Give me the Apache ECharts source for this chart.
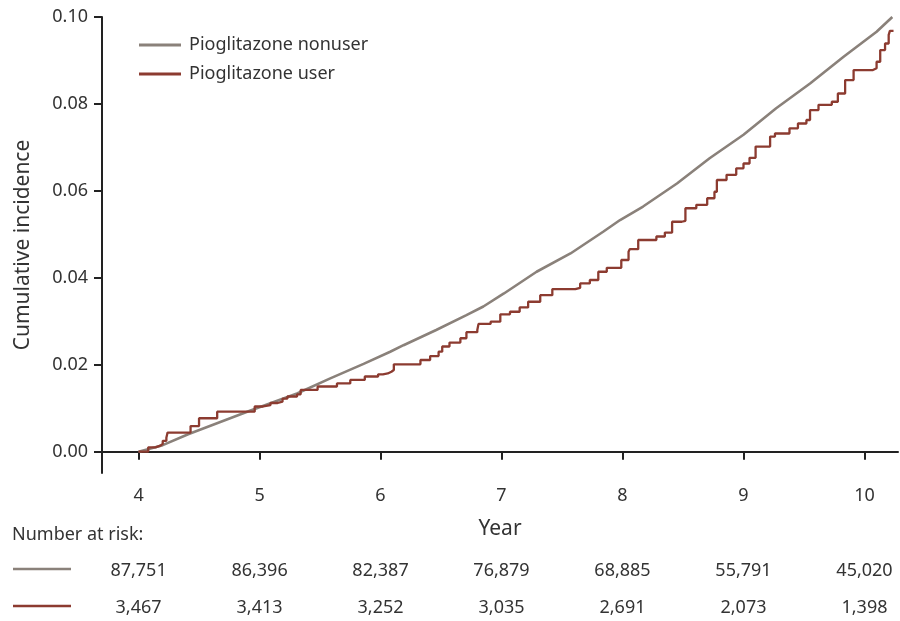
<!DOCTYPE html>
<html>
<head>
<meta charset="utf-8">
<script src="https://cdn.jsdelivr.net/npm/echarts@6/dist/echarts.min.js"></script>
<style>html,body{margin:0;padding:0;background:#fff}#c{width:900px;height:621px}</style>
</head>
<body>
<div id="c"></div>
<script>
// ---- data ----
var years = [4, 5, 6, 7, 8, 9, 10];
var yTicks = [0, 0.02, 0.04, 0.06, 0.08, 0.10];
var seriesNames = ['Pioglitazone nonuser', 'Pioglitazone user'];
var riskNonuser = ['87,751', '86,396', '82,387', '76,879', '68,885', '55,791', '45,020'];
var riskUser = ['3,467', '3,413', '3,252', '3,035', '2,691', '2,073', '1,398'];

var nonuserCurve = [
  [4.00, 0.0000], [4.20, 0.0015], [4.41, 0.0040], [4.92, 0.0094], [5.31, 0.0134],
  [5.58, 0.0168], [5.86, 0.0202], [6.08, 0.0230], [6.19, 0.0245], [6.46, 0.0280],
  [6.71, 0.0314], [6.85, 0.0334], [7.02, 0.0364], [7.29, 0.0414], [7.57, 0.0456],
  [7.84, 0.0506], [7.98, 0.0533], [8.17, 0.0564], [8.45, 0.0617], [8.72, 0.0675],
  [9.00, 0.0729], [9.27, 0.0790], [9.55, 0.0847], [9.83, 0.0909], [10.10, 0.0966],
  [10.23, 0.1000]
];

var userCurve = [
  [4.00, 0.0000], [4.08, 0.0010], [4.14, 0.0014], [4.18, 0.0018], [4.20, 0.0025],
  [4.23, 0.0032], [4.24, 0.0044], [4.43, 0.0059], [4.50, 0.0077], [4.65, 0.0092],
  [4.96, 0.0104], [5.03, 0.0107], [5.09, 0.0112], [5.15, 0.0115], [5.19, 0.0122],
  [5.23, 0.0127], [5.31, 0.0132], [5.34, 0.0142], [5.48, 0.0150], [5.64, 0.0157],
  [5.75, 0.0165], [5.87, 0.0173], [5.98, 0.0178], [6.02, 0.0180], [6.06, 0.0184],
  [6.09, 0.0188], [6.11, 0.0201], [6.33, 0.0211], [6.41, 0.0220], [6.48, 0.0230],
  [6.51, 0.0242], [6.57, 0.0251], [6.66, 0.0261], [6.71, 0.0275], [6.80, 0.0280],
  [6.81, 0.0294], [6.91, 0.0299], [6.99, 0.0316], [7.07, 0.0322], [7.15, 0.0332],
  [7.22, 0.0345], [7.32, 0.0360], [7.42, 0.0374], [7.61, 0.0377], [7.65, 0.0387],
  [7.73, 0.0395], [7.80, 0.0414], [7.87, 0.0423], [7.99, 0.0441], [8.05, 0.0460],
  [8.06, 0.0466], [8.13, 0.0487], [8.28, 0.0495], [8.35, 0.0504], [8.41, 0.0529],
  [8.49, 0.0531], [8.52, 0.0560], [8.61, 0.0568], [8.70, 0.0583], [8.76, 0.0598],
  [8.78, 0.0625], [8.86, 0.0637], [8.94, 0.0652], [9.00, 0.0663], [9.05, 0.0676],
  [9.10, 0.0702], [9.22, 0.0725], [9.26, 0.0732], [9.38, 0.0744], [9.45, 0.0755],
  [9.52, 0.0763], [9.55, 0.0786], [9.62, 0.0798], [9.73, 0.0805], [9.78, 0.0824],
  [9.84, 0.0855], [9.91, 0.0878], [10.07, 0.0882], [10.10, 0.0897], [10.13, 0.0924],
  [10.17, 0.0939], [10.20, 0.0959], [10.21, 0.0968], [10.24, 0.0968]
];

// ---- chart ----
var FONT = 'Noto Sans';
var TXT = '#333333';
var GRAY = '#8a817a';
var RED = '#8c3b30';
var AX = '#222222';
var xMin = 3.698, xMax = 10.277;

var chart = echarts.init(document.getElementById('c'), null, {renderer: 'canvas'});

function riskAxis(list, offset) {
  return {
    type: 'value', gridIndex: 0, position: 'bottom', offset: offset,
    min: xMin, max: xMax,
    axisLine: {show: false}, axisTick: {show: false}, splitLine: {show: false},
    axisLabel: {
      customValues: years, margin: 8, fontFamily: FONT, fontSize: 18, color: TXT,
      formatter: function (v) { var i = years.indexOf(Math.round(v)); return i >= 0 ? list[i] : ''; }
    }
  };
}

var option = {
  animation: false,
  backgroundColor: '#ffffff',
  textStyle: {fontFamily: FONT},
  grid: {left: 102, right: 2, top: 17, bottom: 148, containLabel: false},
  legend: {
    orient: 'vertical', left: 134, top: 31, itemGap: 11,
    icon: 'rect', itemWidth: 42, itemHeight: 3,
    textStyle: {fontFamily: FONT, fontSize: 18, color: TXT, padding: [0, 0, 0, 3]},
    data: seriesNames
  },
  xAxis: [
    {
      type: 'value', min: xMin, max: xMax,
      name: 'Year', nameLocation: 'middle', nameGap: 46,
      nameTextStyle: {fontFamily: FONT, fontSize: 21, color: TXT},
      axisLine: {show: true, lineStyle: {color: AX, width: 2}},
      axisTick: {show: true, customValues: years, length: 8, lineStyle: {color: AX, width: 2}},
      axisLabel: {customValues: years, margin: 14, fontFamily: FONT, fontSize: 18, color: TXT},
      splitLine: {show: false}
    },
    riskAxis(riskNonuser, 81),
    riskAxis(riskUser, 118)
  ],
  yAxis: {
    type: 'value', min: -0.0049, max: 0.1,
    name: 'Cumulative incidence', nameLocation: 'middle', nameGap: 68, nameRotate: 90,
    nameTextStyle: {fontFamily: FONT, fontSize: 21, color: TXT},
    axisLine: {show: true, lineStyle: {color: AX, width: 2}},
    axisTick: {show: true, customValues: yTicks, length: 8, lineStyle: {color: AX, width: 2}},
    axisLabel: {customValues: yTicks, margin: 14, fontFamily: FONT, fontSize: 18, color: TXT,
      formatter: function (v) { return v.toFixed(2); }},
    splitLine: {show: false}
  },
  graphic: [
    {type: 'text', left: 12, top: 526, style: {text: 'Number at risk:', font: '18px "Noto Sans"', fill: TXT}},
    {type: 'line', shape: {x1: 13, y1: 569, x2: 71, y2: 569}, style: {stroke: GRAY, lineWidth: 2.5}},
    {type: 'line', shape: {x1: 13, y1: 606, x2: 71, y2: 606}, style: {stroke: RED, lineWidth: 2.5}}
  ],
  series: [
    {
      name: seriesNames[0], type: 'line', xAxisIndex: 0, data: nonuserCurve,
      showSymbol: false, symbol: 'none', smooth: false,
      lineStyle: {color: GRAY, width: 2.6}, itemStyle: {color: GRAY}
    },
    {
      name: seriesNames[1], type: 'line', xAxisIndex: 0, data: userCurve,
      step: 'end', showSymbol: false, symbol: 'none',
      lineStyle: {color: RED, width: 2.3}, itemStyle: {color: RED}
    }
  ]
};
chart.setOption(option);
</script>
</body>
</html>
